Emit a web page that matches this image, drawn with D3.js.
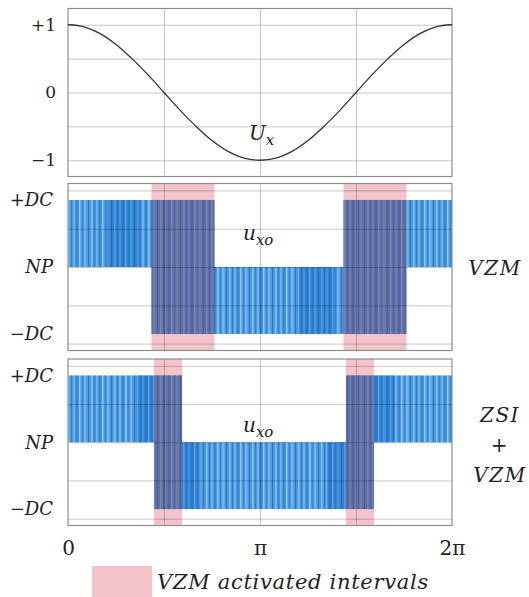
<!DOCTYPE html>
<html lang="en">
<head>
<meta charset="UTF-8">
<title>VZM switching waveforms</title>
<script src="https://d3js.org/d3.v7.min.js"></script>
<style>
    body { margin: 0; background: #fff; }
    .grid line { stroke: #000; stroke-opacity: 0.22; }
    .grid path { display: none; }
    .lbl path, .lbl line { display: none; }
    .lbl text, .note { font-family: "DejaVu Serif", serif; fill: #222; }
</style>
</head>
<body>
<svg width="529" height="597"></svg>
<script>
    // phase in units of pi
    const uxPhase = [0, 0.083, 0.167, 0.25, 0.333, 0.417, 0.5, 0.583, 0.667, 0.75, 0.833, 0.917, 1,
        1.083, 1.167, 1.25, 1.333, 1.417, 1.5, 1.583, 1.667, 1.75, 1.833, 1.917, 2];
    const uxValue = [1, 0.97, 0.87, 0.71, 0.5, 0.26, 0, -0.26, -0.5, -0.71, -0.87, -0.97, -1,
        -0.97, -0.87, -0.71, -0.5, -0.26, 0, 0.26, 0.5, 0.71, 0.87, 0.97, 1];

    const phaseGrid = [0.5, 1, 1.5];
    const phaseTicks = [0, 1, 2];
    const phaseLabels = ["0", "π", "2π"];

    const uxGrid = [-1, -0.5, 0, 0.5, 1];
    const uxTicks = [1, 0, -1];
    const uxLabels = ["+1", "0", "−1"];

    const DC = 1.75;
    const levelGrid = [-2, -1, 0, 1, 2];
    const levelTicks = [DC, 0, -DC];
    const levelLabels = ["+DC", "NP", "−DC"];

    // VZM panel (sign = which half band, NP..+DC or NP..-DC)
    const vzmBandStart = [0, 0.435, 1.435];
    const vzmBandEnd = [0.763, 1.763, 2];
    const vzmBandSign = [1, -1, 1];
    const vzmActStart = [0.435, 1.435];
    const vzmActEnd = [0.763, 1.763];
    const vzmDarkStart = [0.2, 1.2];
    const vzmDarkEnd = [0.375, 1.39];
    const vzmDarkSign = [1, -1];

    // ZSI + VZM panel
    const zsiBandStart = [0, 0.448, 1.448];
    const zsiBandEnd = [0.594, 1.594, 2];
    const zsiBandSign = [1, -1, 1];
    const zsiActStart = [0.448, 1.448];
    const zsiActEnd = [0.594, 1.594];
    const zsiDarkStart = [0.36, 0.594, 1.35, 1.594];
    const zsiDarkEnd = [0.448, 0.69, 1.448, 1.7];
    const zsiDarkSign = [1, -1, -1, 1];

    const PINK = "#f3c5cb";
    const X0 = 68, W = 384;
    const svg = d3.select("svg");
    const x = d3.scaleLinear().domain([0, 2]).range([0, W]);

    // stripe texture for the pwm pulses
    const defs = svg.append("defs");
    const pat = defs.append("pattern").attr("id", "pwm")
        .attr("patternUnits", "userSpaceOnUse").attr("width", 23).attr("height", 10);
    pat.append("rect").attr("width", 23).attr("height", 10).attr("fill", "#4a98de");
    [[0, 1.5, "#8cc2ef"], [3, 1, "#2b7fd0"], [5, 2, "#6eb0ea"], [8.5, 1, "#1f74c8"],
     [11, 1.5, "#93c6f0"], [14, 1, "#3589d6"], [16, 2.5, "#74b3eb"], [20, 1, "#2378cb"]]
        .forEach(s => pat.append("rect").attr("x", s[0]).attr("width", s[1]).attr("height", 10).attr("fill", s[2]));

    const drawGrid = (g, y, h, values) => {
        g.append("g").attr("class", "grid")
            .call(d3.axisLeft(y).tickValues(values).tickSize(-W).tickFormat(""));
        g.append("g").attr("class", "grid").attr("transform", `translate(0,${h})`)
            .call(d3.axisBottom(x).tickValues(phaseGrid).tickSize(h).tickFormat(""))
            .selectAll("line").attr("y2", -h);
        g.append("rect").attr("width", W).attr("height", h)
            .attr("fill", "none").attr("stroke", "#8c8c8c").attr("stroke-width", 1.2);
    };

    const subLabel = (g, tx, ty, main, sub) => {
        const t = g.append("text").attr("class", "note").attr("x", tx).attr("y", ty)
            .style("font-style", "italic").style("font-size", "20px");
        t.append("tspan").text(main);
        t.append("tspan").attr("dy", 5).style("font-size", "15px").text(sub);
    };

    // top panel: Ux
    const drawUx = (top, h) => {
        const g = svg.append("g").attr("transform", `translate(${X0},${top})`);
        const y = d3.scaleLinear().domain([-1.24, 1.24]).range([h, 0]);
        drawGrid(g, y, h, uxGrid);
        g.append("path").datum(d3.zip(uxPhase, uxValue))
            .attr("fill", "none").attr("stroke", "#333").attr("stroke-width", 1.3)
            .attr("d", d3.line().x(d => x(d[0])).y(d => y(d[1])).curve(d3.curveCatmullRom));
        g.append("g").attr("class", "lbl")
            .call(d3.axisLeft(y).tickValues(uxTicks).tickFormat((d, i) => uxLabels[i]).tickSize(0).tickPadding(12))
            .selectAll("text").style("font-size", "17px");
        subLabel(g, 181, 131, "U", "x");
    };

    const drawSwitching = (top, h, c, label) => {
        const g = svg.append("g").attr("transform", `translate(${X0},${top})`);
        const y = d3.scaleLinear().domain([-2.18, 2.18]).range([h, 0]);
        const bandY = s => y(Math.max(0, s * DC));
        const bandH = s => Math.abs(y(0) - y(s * DC));

        g.selectAll(".act").data(d3.zip(c.actStart, c.actEnd)).join("rect").attr("class", "act")
            .attr("x", d => x(d[0])).attr("width", d => x(d[1]) - x(d[0]))
            .attr("y", 0).attr("height", h).attr("fill", PINK);

        g.selectAll(".band").data(d3.zip(c.bandStart, c.bandEnd, c.bandSign)).join("rect").attr("class", "band")
            .attr("x", d => x(d[0])).attr("width", d => x(d[1]) - x(d[0]))
            .attr("y", d => bandY(d[2])).attr("height", d => bandH(d[2]))
            .attr("fill", "url(#pwm)");

        g.selectAll(".dark").data(d3.zip(c.darkStart, c.darkEnd, c.darkSign)).join("rect").attr("class", "dark")
            .attr("x", d => x(d[0])).attr("width", d => x(d[1]) - x(d[0]))
            .attr("y", d => bandY(d[2])).attr("height", d => bandH(d[2]))
            .attr("fill", "#0b63bd").attr("fill-opacity", 0.4);

        // switching between +DC and -DC while VZM is on
        g.selectAll(".ovl").data(d3.zip(c.actStart, c.actEnd)).join("rect").attr("class", "ovl")
            .attr("x", d => x(d[0])).attr("width", d => x(d[1]) - x(d[0]))
            .attr("y", y(DC)).attr("height", y(-DC) - y(DC))
            .attr("fill", "rgb(110,70,110)").attr("fill-opacity", 0.5);

        drawGrid(g, y, h, levelGrid);

        g.append("g").attr("class", "lbl")
            .call(d3.axisLeft(y).tickValues(levelTicks).tickFormat((d, i) => levelLabels[i]).tickSize(0).tickPadding(15))
            .selectAll("text").style("font-size", "18px").style("font-style", "italic");

        subLabel(g, 175, c.noteY, "u", "xo");

        const side = g.append("text").attr("class", "note").attr("text-anchor", "middle")
            .style("font-style", "italic").style("font-size", "20px").style("letter-spacing", "1.5px");
        label.forEach((t, i) => side.append("tspan").attr("x", c.sideX).attr("y", c.sideY + i * 30).text(t));
        return g;
    };

    drawUx(8.5, 168);

    drawSwitching(183.5, 167, {
        bandStart: vzmBandStart, bandEnd: vzmBandEnd, bandSign: vzmBandSign,
        actStart: vzmActStart, actEnd: vzmActEnd,
        darkStart: vzmDarkStart, darkEnd: vzmDarkEnd, darkSign: vzmDarkSign,
        noteY: 56, sideX: 427, sideY: 91
    }, ["VZM"]);

    const g3 = drawSwitching(359, 166.5, {
        bandStart: zsiBandStart, bandEnd: zsiBandEnd, bandSign: zsiBandSign,
        actStart: zsiActStart, actEnd: zsiActEnd,
        darkStart: zsiDarkStart, darkEnd: zsiDarkEnd, darkSign: zsiDarkSign,
        noteY: 73, sideX: 432, sideY: 63
    }, ["ZSI", "+", "VZM"]);

    // phase axis under the last panel
    g3.append("g").attr("class", "lbl").attr("transform", "translate(0,166.5)")
        .call(d3.axisBottom(x).tickValues(phaseTicks).tickFormat((d, i) => phaseLabels[i]).tickSize(0).tickPadding(15))
        .selectAll("text").style("font-size", "20px");

    // legend
    const leg = svg.append("g").attr("transform", "translate(92,566)");
    leg.append("rect").attr("width", 60).attr("height", 31).attr("fill", PINK);
    leg.append("text").attr("class", "note").attr("x", 65).attr("y", 23)
        .style("font-style", "italic").style("font-size", "21px").style("letter-spacing", "0.7px")
        .text("VZM activated intervals");
</script>
</body>
</html>
